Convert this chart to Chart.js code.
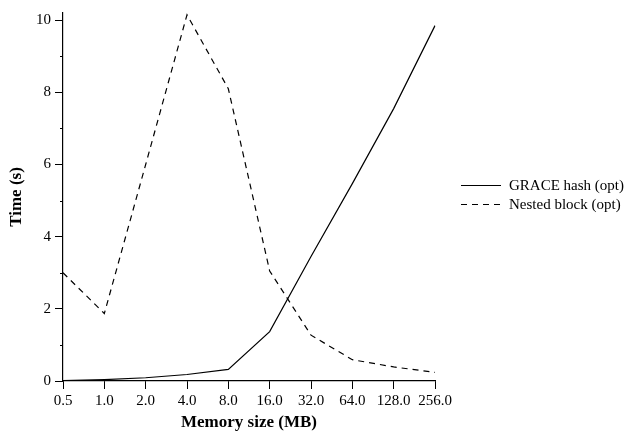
<!DOCTYPE html>
<html>
<head>
<meta charset="utf-8">
<script src="https://cdn.jsdelivr.net/npm/chart.js@4/dist/chart.umd.min.js"></script>
<style>
  html, body { margin: 0; padding: 0; background: #fff; }
  #wrap { width: 629px; height: 436px; }
</style>
</head>
<body>
<div id="wrap"><canvas id="c" width="629" height="436"></canvas></div>
<script>
// Memory sizes (MB) on the x axis
const memorySizes = ['0.5', '1.0', '2.0', '4.0', '8.0', '16.0', '32.0', '64.0', '128.0', '256.0'];
// Run time in seconds for each join method
const graceHash = [0.01, 0.04, 0.09, 0.18, 0.32, 1.37, 3.45, 5.47, 7.55, 9.85];
const nestedBlock = [3.0, 1.87, 6.0, 10.15, 8.1, 3.05, 1.27, 0.59, 0.39, 0.24];
// Series names
const seriesNames = ['GRACE hash (opt)', 'Nested block (opt)'];
// Y ticks: labelled every 2, small marks in between
const yLabelled = [0, 2, 4, 6, 8, 10];
const yMinor = [1, 3, 5, 7, 9];

const serif = '"Liberation Serif", "Times New Roman", serif';

// Short tick marks for the unlabelled y values
const minorTicks = {
  id: 'minorTicks',
  afterDraw(chart) {
    const y = chart.scales.y;
    const ctx = chart.ctx;
    const x0 = chart.chartArea.left;
    ctx.save();
    ctx.strokeStyle = '#000';
    ctx.lineWidth = 1;
    yMinor.forEach(v => {
      const py = Math.round(y.getPixelForValue(v)) + 0.5;
      ctx.beginPath();
      ctx.moveTo(x0 - 3, py);
      ctx.lineTo(x0, py);
      ctx.stroke();
    });
    ctx.restore();
  }
};

// Legend with line samples, drawn to the right of the plot
const lineLegend = {
  id: 'lineLegend',
  afterDraw(chart, args, opts) {
    const ctx = chart.ctx;
    ctx.save();
    ctx.font = '15px ' + serif;
    ctx.textBaseline = 'middle';
    ctx.fillStyle = '#000';
    chart.data.datasets.forEach((ds, i) => {
      const y = opts.top + i * opts.rowGap;
      ctx.strokeStyle = ds.borderColor;
      ctx.lineWidth = ds.borderWidth;
      ctx.setLineDash(ds.borderDash || []);
      ctx.beginPath();
      ctx.moveTo(opts.left, y + 0.5);
      ctx.lineTo(opts.left + opts.sample, y + 0.5);
      ctx.stroke();
      ctx.setLineDash([]);
      ctx.fillText(ds.label, opts.left + opts.sample + 8, y + 1);
    });
    ctx.restore();
  }
};

new Chart(document.getElementById('c'), {
  type: 'line',
  data: {
    labels: memorySizes,
    datasets: [
      {
        label: seriesNames[0],
        data: graceHash,
        borderColor: '#000',
        borderWidth: 1.2,
        pointRadius: 0,
        tension: 0,
        fill: false
      },
      {
        label: seriesNames[1],
        data: nestedBlock,
        borderColor: '#000',
        borderWidth: 1.2,
        borderDash: [6, 5],
        pointRadius: 0,
        tension: 0,
        fill: false
      }
    ]
  },
  options: {
    responsive: false,
    animation: false,
    layout: { padding: { left: 0, right: 194, top: 8, bottom: 0 } },
    plugins: {
      legend: { display: false },
      tooltip: { enabled: false },
      lineLegend: { left: 461, top: 185, rowGap: 19, sample: 40 }
    },
    scales: {
      x: {
        type: 'category',
        offset: false,
        grid: {
          drawOnChartArea: false,
          drawTicks: true,
          tickLength: 8,
          color: '#000'
        },
        border: { display: true, color: '#000', width: 1.2 },
        ticks: {
          color: '#000',
          font: { family: serif, size: 15 },
          padding: 3,
          maxRotation: 0,
          autoSkip: false
        },
        title: {
          display: true,
          text: 'Memory size (MB)',
          color: '#000',
          font: { family: serif, size: 17, weight: 'bold' },
          padding: { top: 0, bottom: 3 }
        },
        afterFit(scale) { scale.height = 55; }
      },
      y: {
        min: 0,
        max: 10.2,
        afterBuildTicks(scale) {
          scale.ticks = yLabelled.map(v => ({ value: v }));
        },
        grid: {
          drawOnChartArea: false,
          drawTicks: true,
          tickLength: 8,
          color: '#000'
        },
        border: { display: true, color: '#000', width: 1.2 },
        ticks: {
          color: '#000',
          font: { family: serif, size: 15 },
          padding: 4,
          callback: v => String(v)
        },
        title: {
          display: true,
          text: 'Time (s)',
          color: '#000',
          font: { family: serif, size: 17, weight: 'bold' },
          padding: { top: 6, bottom: 0 }
        },
        afterFit(scale) { scale.width = 63; }
      }
    }
  },
  plugins: [minorTicks, lineLegend]
});
</script>
</body>
</html>
